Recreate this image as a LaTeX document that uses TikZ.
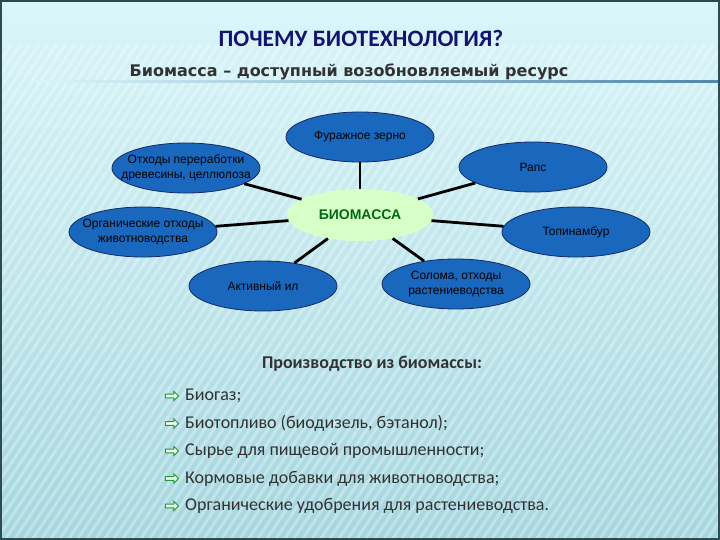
\documentclass[tikz,border=0pt]{standalone}
\usepackage{fontspec}
\setmainfont{Liberation Sans}
\newfontfamily\calib{Carlito}
\newfontfamily\verd{DejaVu Sans}
\usepackage{tikz}
\usetikzlibrary{shapes.geometric,shapes.arrows}

\definecolor{ellblue}{RGB}{26,104,190}
\definecolor{ellborder}{RGB}{20,40,100}
\definecolor{biogreen}{RGB}{215,255,200}
\definecolor{biotext}{RGB}{0,105,20}
\definecolor{titleblue}{RGB}{20,20,110}
\definecolor{subgray}{RGB}{50,50,50}
\definecolor{bgtop}{RGB}{218,246,250}
\definecolor{bgbot}{RGB}{165,214,222}
\definecolor{framecol}{RGB}{45,75,80}
\definecolor{rulecol}{RGB}{80,135,170}
\definecolor{arrgreen}{RGB}{40,150,60}

\begin{document}
\begin{tikzpicture}[x=1pt,y=-1pt]
    \tikzstyle{source} = [ellipse, draw=ellborder, thick, fill=ellblue, inner xsep=-24pt, inner ysep=0pt, minimum width=148pt, minimum height=50pt, align=center, font=\fontsize{12}{15}\selectfont]
    \tikzstyle{center} = [ellipse, fill=biogreen, inner sep=0pt, minimum width=146pt, minimum height=52pt, text=biotext, font=\fontsize{14}{16}\selectfont\bfseries]
    \tikzstyle{link} = [line width=2.8pt, black]
    \tikzstyle{bulletarr} = [single arrow, draw=arrgreen, fill=green!8, line width=0.9pt, minimum height=13pt, minimum width=9pt, single arrow head extend=2pt, inner sep=1pt]
    \tikzstyle{item} = [anchor=west, inner sep=0pt, text=subgray, font=\calib\fontsize{18}{20}\selectfont]

    % Background
    \useasboundingbox (0,0) rectangle (720,540);
    \shade[top color=bgtop, bottom color=bgbot] (0,0) rectangle (720,540);
    \begin{scope}
        \clip (0,45) rectangle (720,540);
        \foreach \s in {-400,-391,...,720}
            \draw[white, opacity=0.3, line width=3pt] (\s,540) -- (\s+360,0);
    \end{scope}
    \draw[framecol, line width=2pt] (1,1) rectangle (719,539);

    % Title
    \node[text=titleblue, font=\calib\fontsize{23.5}{26}\selectfont\bfseries] (title) at (361,38) {ПОЧЕМУ БИОТЕХНОЛОГИЯ?};
    \node[text=subgray, font=\verd\fontsize{16}{18}\selectfont\bfseries] (subtitle) at (349,72) {Биомасса – доступный возобновляемый ресурс};
    \shade[left color=bgtop, right color=rulecol] (35,81) rectangle (718,83);

    % Sources of biomass
    \node[center] (bio) at (360,215) {БИОМАССА};
    \node[source] (furazh) at (360,137) {Фуражное зерно};
    \node[source] (othody) at (186,168) {Отходы переработки\\древесины, целлюлоза};
    \node[source] (raps) at (533,167) {Рапс};
    \node[source] (organic) at (143,232) {Органические отходы\\животноводства};
    \node[source] (topin) at (576,232) {Топинамбур};
    \node[source] (ilnode) at (263,286) {Активный ил};
    \node[source] (soloma) at (456,284) {Солома, отходы\\растениеводства};
    \foreach \n in {furazh,othody,raps,organic,topin,ilnode,soloma}
        \draw[link] (bio) -- (\n);

    % Products
    \node[anchor=center, text=subgray, font=\calib\fontsize{18}{20}\selectfont\bfseries] (prod) at (372,364) {Производство из биомассы:};
    \foreach \txt [count=\i] in {{Биогаз;},{Биотопливо (биодизель, бэтанол);},{Сырье для пищевой промышленности;},{Кормовые добавки для животноводства;},{Органические удобрения для растениеводства.}} {
        \node[bulletarr] (arr\i) at (171,396+27.5*\i-27.5) {};
        \node[item] (item\i) at (185,396+27.5*\i-27.5) {\txt};
    }

\end{tikzpicture}
\end{document}
